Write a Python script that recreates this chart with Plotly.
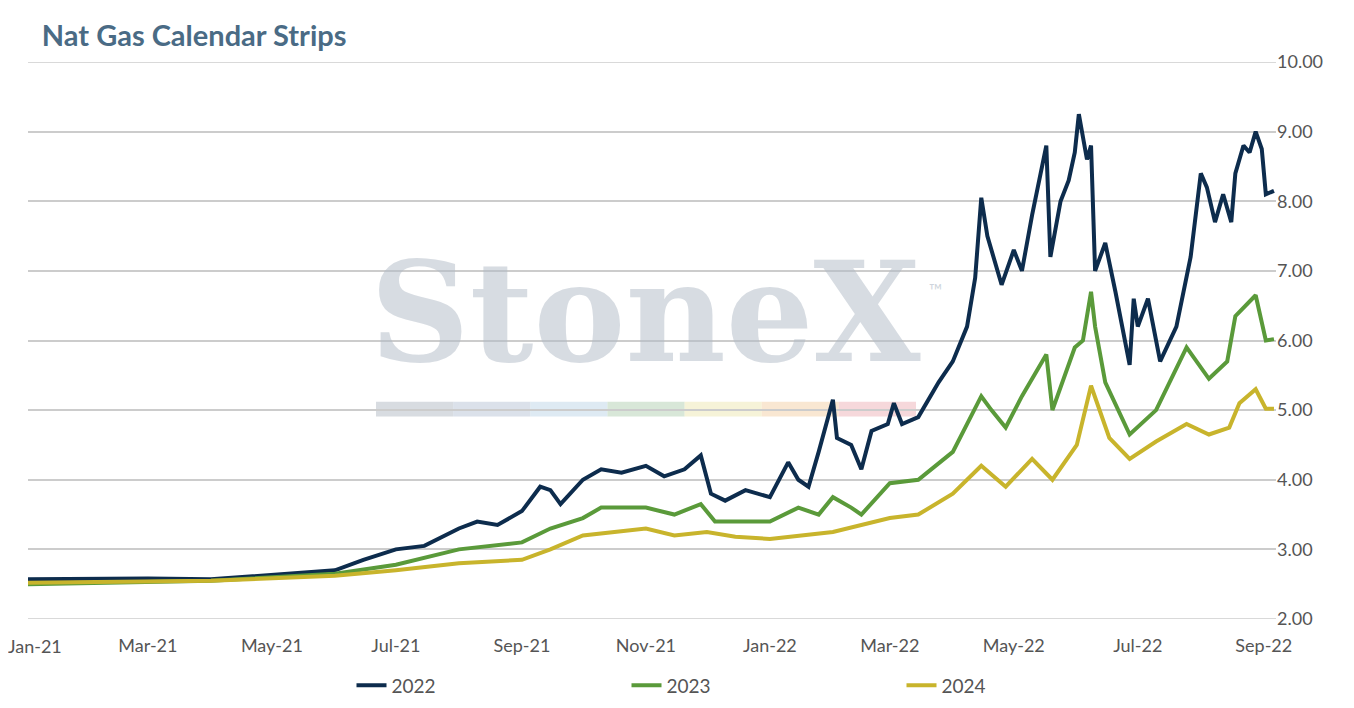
import plotly.graph_objects as go

d22 = ["2021-01-01","2021-02-01","2021-03-01","2021-04-01","2021-05-01","2021-06-01","2021-06-15","2021-07-01","2021-07-15","2021-08-01","2021-08-10","2021-08-20","2021-09-01","2021-09-10","2021-09-15","2021-09-20","2021-10-01","2021-10-10","2021-10-20","2021-11-01","2021-11-10","2021-11-20","2021-11-28","2021-12-03","2021-12-10","2021-12-20","2022-01-01","2022-01-10","2022-01-15","2022-01-20","2022-01-25","2022-02-01","2022-02-03","2022-02-10","2022-02-15","2022-02-20","2022-02-28","2022-03-03","2022-03-07","2022-03-15","2022-03-25","2022-04-01","2022-04-08","2022-04-12","2022-04-15","2022-04-18","2022-04-25","2022-05-01","2022-05-05","2022-05-10","2022-05-17","2022-05-19","2022-05-24","2022-05-28","2022-05-31","2022-06-02","2022-06-06","2022-06-08","2022-06-10","2022-06-15","2022-06-20","2022-06-27","2022-06-29","2022-07-01","2022-07-06","2022-07-12","2022-07-20","2022-07-27","2022-08-01","2022-08-04","2022-08-08","2022-08-12","2022-08-16","2022-08-18","2022-08-22","2022-08-25","2022-08-28","2022-08-31","2022-09-02","2022-09-06"]
v22 = [2.57,2.58,2.58,2.57,2.63,2.70,2.85,3.00,3.05,3.30,3.40,3.35,3.55,3.90,3.85,3.65,4.00,4.15,4.10,4.20,4.05,4.15,4.35,3.80,3.70,3.85,3.75,4.25,4.00,3.90,4.40,5.15,4.60,4.50,4.15,4.70,4.80,5.10,4.80,4.90,5.40,5.70,6.20,6.90,8.05,7.50,6.80,7.30,7.00,7.80,8.80,7.20,8.00,8.30,8.70,9.25,8.60,8.80,7.00,7.40,6.70,5.65,6.60,6.20,6.60,5.70,6.20,7.20,8.40,8.20,7.70,8.10,7.70,8.40,8.80,8.70,9.00,8.75,8.10,8.15]

d23 = ["2021-01-01","2021-04-01","2021-06-01","2021-07-01","2021-08-01","2021-08-15","2021-09-01","2021-09-15","2021-10-01","2021-10-10","2021-11-01","2021-11-15","2021-11-28","2021-12-05","2022-01-01","2022-01-15","2022-01-25","2022-02-01","2022-02-10","2022-02-15","2022-03-01","2022-03-15","2022-04-01","2022-04-15","2022-04-20","2022-04-27","2022-05-05","2022-05-17","2022-05-20","2022-05-31","2022-06-04","2022-06-08","2022-06-10","2022-06-15","2022-06-27","2022-07-10","2022-07-25","2022-08-05","2022-08-14","2022-08-18","2022-08-28","2022-09-02","2022-09-06"]
v23 = [2.50,2.55,2.65,2.78,3.00,3.05,3.10,3.30,3.45,3.60,3.60,3.50,3.65,3.40,3.40,3.60,3.50,3.75,3.60,3.50,3.95,4.00,4.40,5.20,5.00,4.75,5.20,5.80,5.00,5.90,6.00,6.70,6.20,5.40,4.65,5.00,5.90,5.45,5.70,6.35,6.65,6.00,6.02]

d24 = ["2021-01-01","2021-04-01","2021-06-01","2021-07-01","2021-08-01","2021-09-01","2021-09-15","2021-10-01","2021-11-01","2021-11-15","2021-12-01","2021-12-15","2022-01-01","2022-02-01","2022-03-01","2022-03-15","2022-04-01","2022-04-15","2022-04-27","2022-05-10","2022-05-20","2022-06-01","2022-06-08","2022-06-12","2022-06-17","2022-06-27","2022-07-10","2022-07-25","2022-08-05","2022-08-15","2022-08-20","2022-08-28","2022-09-02","2022-09-06"]
v24 = [2.52,2.55,2.62,2.70,2.80,2.85,3.00,3.20,3.30,3.20,3.25,3.18,3.15,3.25,3.45,3.50,3.80,4.20,3.90,4.30,4.00,4.50,5.35,5.00,4.60,4.30,4.55,4.80,4.65,4.75,5.10,5.30,5.02,5.02]

tickvals = ["2021-01-01","2021-03-01","2021-05-01","2021-07-01","2021-09-01","2021-11-01","2022-01-01","2022-03-01","2022-05-01","2022-07-01","2022-09-01"]

L, R, T, B = 20, 86, 54, 90
PW, PH = 1354 - L - R, 708 - T - B
def px(x): return (x - L) / PW
def py(y): return (708 - B - y) / PH

fig = go.Figure()
for name, d, v, c in [("2022", d22, v22, "#0d2c4d"), ("2023", d23, v23, "#5a9a3a"), ("2024", d24, v24, "#c8b42c")]:
    fig.add_trace(go.Scatter(x=d, y=v, name=name, mode="lines", line=dict(color=c, width=4)))

fig.add_annotation(text="<b>StoneX</b>", xref="paper", yref="paper", x=px(637), y=py(392), xanchor="center", yanchor="bottom",
                   showarrow=False, font=dict(family="DejaVu Serif", size=138, color="rgba(175,185,198,0.5)"))
fig.add_annotation(text="™", xref="paper", yref="paper", x=px(928), y=py(285), xanchor="center", yanchor="middle",
                   showarrow=False, font=dict(size=18, color="rgba(175,185,198,0.6)"))
cols = ["rgba(190,196,205,0.6)","rgba(195,205,220,0.6)","rgba(200,220,235,0.6)","rgba(190,215,190,0.6)","rgba(240,235,190,0.6)","rgba(245,215,180,0.6)","rgba(240,190,195,0.6)"]
x0, x1 = px(368), px(908)
w = (x1 - x0) / len(cols)
for i, c in enumerate(cols):
    fig.add_shape(type="rect", xref="paper", yref="paper", x0=x0+i*w, x1=x0+(i+1)*w, y0=py(413), y1=py(398),
                  fillcolor=c, line_width=0, layer="below")

# edge gridlines (top and bottom of the range)
for yv in (2, 10):
    fig.add_shape(type="line", xref="paper", yref="y", x0=0, x1=1, y0=yv, y1=yv,
                  line=dict(color="#cccccc", width=1.5), layer="below")

fig.add_annotation(text="Jan-21", xref="x", yref="paper", x=tickvals[0], y=py(645), xanchor="center", yanchor="middle",
                   xshift=7, showarrow=False, font=dict(size=18, color="#555"))

fig.update_layout(
    width=1354, height=708, plot_bgcolor="white", paper_bgcolor="white",
    margin=dict(l=L, r=R, t=T, b=B),
    font=dict(family="Lato", size=18, color="#555"),
    title=dict(text="<b>Nat Gas Calendar Strips</b>", x=0.025, y=0.975, yanchor="top", font=dict(size=29, color="#4a6b85")),
    xaxis=dict(type="date", range=["2021-01-01","2022-09-07"], tickvals=tickvals[1:], tickformat="%b-%y", automargin=False,
               showgrid=False, showline=False, ticks="", ticklabelstandoff=14, tickfont=dict(size=18, color="#555")),
    yaxis=dict(side="right", range=[2, 10], dtick=1, tickformat=".2f", gridcolor="#cccccc", gridwidth=1.5, automargin=False,
               zeroline=False, tickfont=dict(size=18, color="#555")),
    legend=dict(orientation="h", x=px(756), xanchor="center", y=-0.085, yanchor="top", font=dict(size=19),
                entrywidth=230),
    showlegend=True,
)
fig.write_html("out.html")
